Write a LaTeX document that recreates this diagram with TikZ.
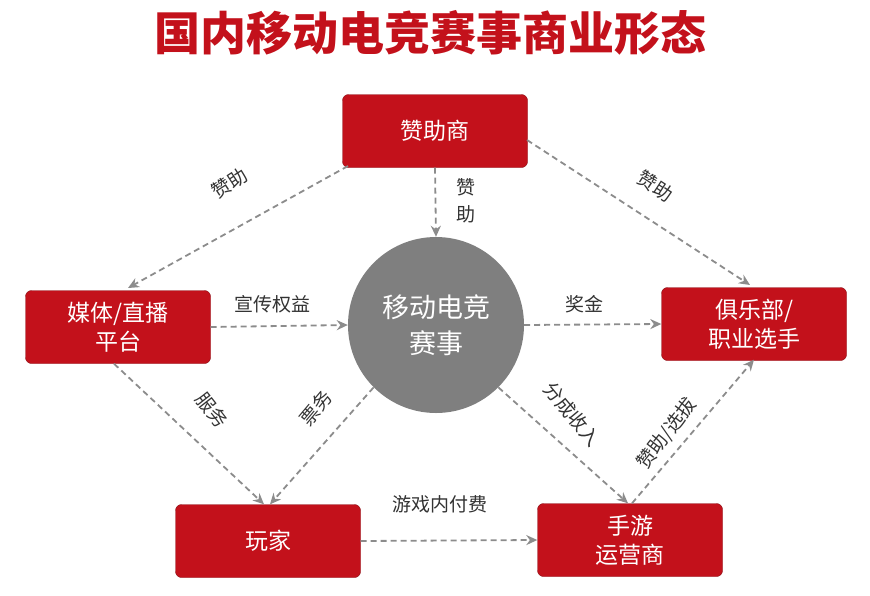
\documentclass[tikz,border=0pt]{standalone}
\usepackage{fontspec}
\setmainfont{Noto Sans CJK SC}
\usetikzlibrary{arrows.meta}
\definecolor{boxred}{HTML}{C3111B}
\definecolor{circgray}{HTML}{7F7F7F}
\definecolor{linegray}{HTML}{8C8C8C}
\begin{document}
\begin{tikzpicture}[x=1pt,y=-1pt]
			% Define styles for the nodes and labels
			\tikzstyle{party} = [rectangle, rounded corners=6pt, fill=boxred, draw=boxred!70!black, text=white, minimum width=185pt, minimum height=73pt, font=\fontsize{23}{29}\selectfont, align=center]
			\tikzstyle{event} = [circle, fill=circgray, text=white, minimum size=176pt, font=\fontsize{27}{36}\selectfont, align=center]
			\tikzstyle{flow} = [draw=linegray, dash pattern=on 6pt off 4pt, line width=1.8pt, -{Stealth[length=11pt,width=10pt]}]
			\tikzstyle{tag} = [font=\fontsize{19}{23}\selectfont, text=black!80]

			\useasboundingbox (0,0) rectangle (870,595);

			% Title
			\node[text=boxred, font=\fontsize{46}{50}\selectfont\bfseries] (title) at (430,33) {国内移动电竞赛事商业形态};

			% Define the nodes with positions
			\node[party] (sponsor) at (435,131) {赞助商};
			\node[party] (media) at (118,327) {媒体/直播\\平台};
			\node[party] (club) at (754,324) {俱乐部/\\职业选手};
			\node[party] (player) at (268,541) {玩家};
			\node[party] (publisher) at (630,540) {手游\\运营商};
			\node[event] (esports) at (436,325) {移动电竞\\赛事};

			% Free ends on the box borders
			\coordinate (s1) at (348,166);
			\coordinate (m1) at (128,288);
			\coordinate (s2) at (527,140);
			\coordinate (c1) at (750,285);

			% Draw the flows
			\draw[flow] (s1) -- (m1);
			\draw[flow] (sponsor.south) -- (esports.north);
			\draw[flow] (s2) -- (c1);
			\draw[flow] (media.east) -- (esports.west);
			\draw[flow] (esports.east) -- (club.west);
			\draw[flow] ([xshift=-4pt]media.south) -- ([xshift=-4pt]player.north);
			\draw[flow] (esports.-135) -- ([xshift=2pt]player.north);
			\draw[flow] (esports.-45) -- ([xshift=-2pt]publisher.north);
			\draw[flow] ([xshift=2pt]publisher.north) -- ([yshift=1pt]club.south);
			\draw[flow] (player.east) -- (publisher.west);

			% Place the labels
			\node[tag, rotate=33] at (230,183) {赞助};
			\node[tag, align=center, font=\fontsize{19}{27}\selectfont] at (466,201) {赞\\助};
			\node[tag, rotate=-33] at (655,186) {赞助};
			\node[tag] at (272,304) {宣传权益};
			\node[tag] at (584,304) {奖金};
			\node[tag, rotate=-52] at (212,410) {服务};
			\node[tag, rotate=50] at (316,408) {票务};
			\node[tag, rotate=-50] at (572,414) {分成收入};
			\node[tag, rotate=52] at (667,434) {赞助/选拔};
			\node[tag] at (440,504) {游戏内付费};

		\end{tikzpicture}
\end{document}
